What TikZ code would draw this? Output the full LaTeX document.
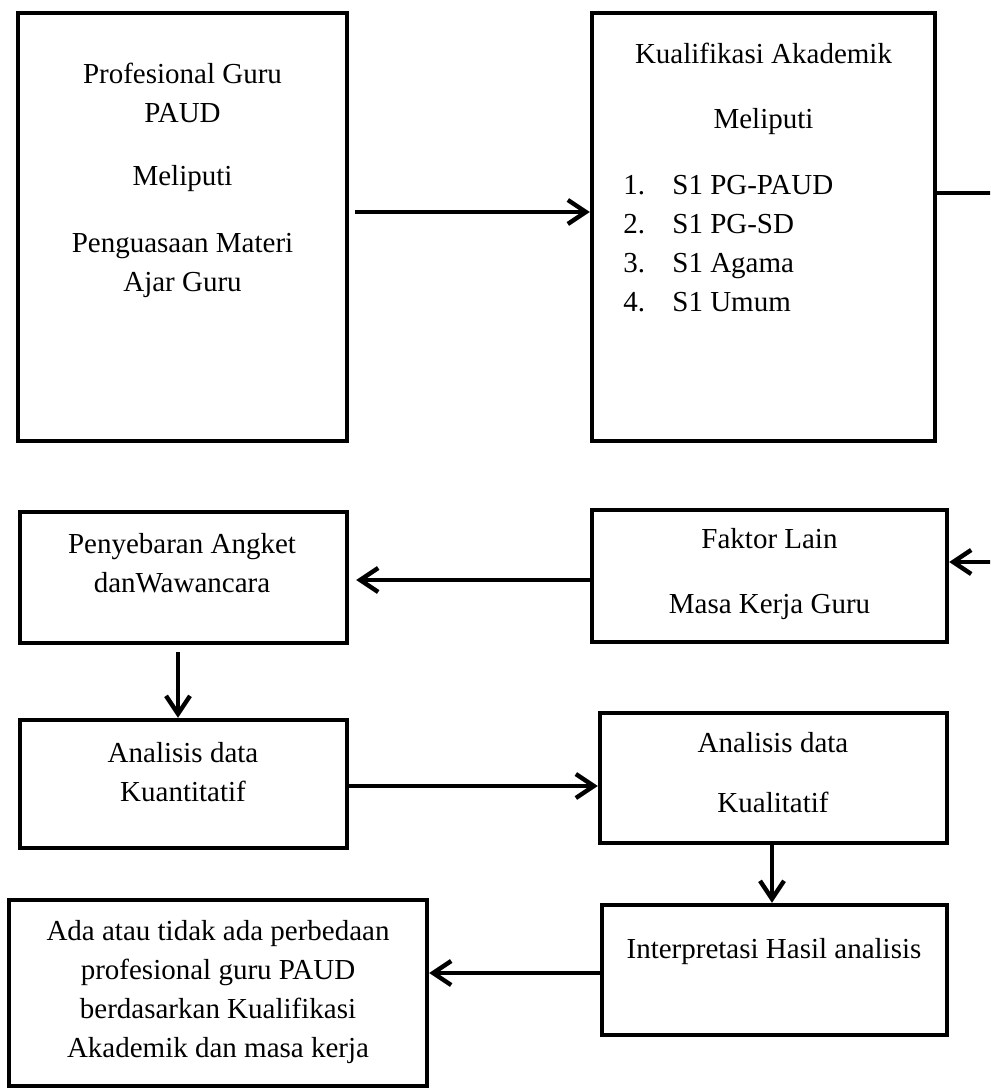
\documentclass[tikz,border=0pt]{standalone}
\usepackage{fontspec}
\setmainfont{Liberation Serif}
\usetikzlibrary{arrows.meta}
\tikzset{
  box/.style={draw, line width=2.2pt, inner sep=0pt},
  txt/.style={align=center, inner sep=0pt, font=\fontsize{14.5}{19.5}\selectfont},
  arr/.style={line width=2.2pt, -{Straight Barb[length=9pt,width=12pt]}},
}
\begin{document}
\begin{tikzpicture}[x=0.5pt, y=-0.5pt]
  \path[use as bounding box, clip] (0,0) rectangle (990,1090);
  % Top row
  \node[box, minimum width=164.5pt, minimum height=214pt] (prof) at (182.5,227) {};
  \node[txt, anchor=north] (proflbl) at (182.5,63)
    {Profesional Guru\\PAUD\\[12pt]Meliputi\\[14pt]Penguasaan Materi\\Ajar Guru};
  \node[box, minimum width=171.5pt, minimum height=214pt] (kual) at (763.5,227) {};
  \node[txt, anchor=north] (kuallbl) at (763.5,43) {Kualifikasi Akademik\\[13pt]Meliputi};
  \node[txt, align=left, anchor=north west] (kuallist) at (623,175)
    {\makebox[24.5pt][l]{1.}S1 PG-PAUD\\
     \makebox[24.5pt][l]{2.}S1 PG-SD\\
     \makebox[24.5pt][l]{3.}S1 Agama\\
     \makebox[24.5pt][l]{4.}S1 Umum};
  % Middle rows
  \node[box, minimum width=163.5pt, minimum height=65.5pt] (angket) at (183.5,577.5) {};
  \node[txt, anchor=north] (angketlbl) at (182,533) {Penyebaran Angket\\danWawancara};
  \node[box, minimum width=177.5pt, minimum height=66pt] (faktor) at (769.5,576) {};
  \node[txt, anchor=north] (faktorlbl) at (769.5,528) {Faktor Lain\\[13pt]Masa Kerja Guru};
  \node[box, minimum width=163.5pt, minimum height=64pt] (kuan) at (183.5,784) {};
  \node[txt, anchor=north] (kuanlbl) at (183,742) {Analisis data\\Kuantitatif};
  \node[box, minimum width=173.5pt, minimum height=65pt] (kual2) at (773.5,778) {};
  \node[txt, anchor=north] (kual2lbl) at (773,732) {Analisis data\\[10.5pt]Kualitatif};
  % Bottom row
  \node[box, minimum width=172.5pt, minimum height=65pt] (interp) at (774.5,970) {};
  \node[txt, anchor=north] (interplbl) at (774,938) {Interpretasi Hasil analisis};
  \node[box, minimum width=209pt, minimum height=93pt] (hasil) at (218,993) {};
  \node[txt, anchor=north] (hasillbl) at (218,920)
    {Ada atau tidak ada perbedaan\\profesional guru PAUD\\berdasarkan Kualifikasi\\Akademik dan masa kerja};
  % Arrows
  \draw[arr, shorten <=3pt] ([yshift=7.5pt]prof.east) -- ([yshift=7.5pt]kual.west);
  \draw[arr] ([yshift=17pt]kual.east) -- ++(32.5pt,0) |- ([yshift=7pt]faktor.east);
  \draw[arr, shorten >=3.5pt] ([yshift=-2pt]faktor.west) -- ([yshift=-2pt]faktor.west -| angket.east);
  \draw[arr, shorten <=3.5pt] ([xshift=-2.75pt]angket.south) -- ([xshift=-2.75pt]angket.south |- kuan.north);
  \draw[arr] ([yshift=-1pt]kuan.east) -- ([yshift=-1pt]kuan.east -| kual2.west);
  \draw[arr] ([xshift=-0.75pt]kual2.south) -- ([xshift=-0.75pt]kual2.south |- interp.north);
  \draw[arr] ([yshift=-1.5pt]interp.west) -- ([yshift=-1.5pt]interp.west -| hasil.east);
\end{tikzpicture}
\end{document}
